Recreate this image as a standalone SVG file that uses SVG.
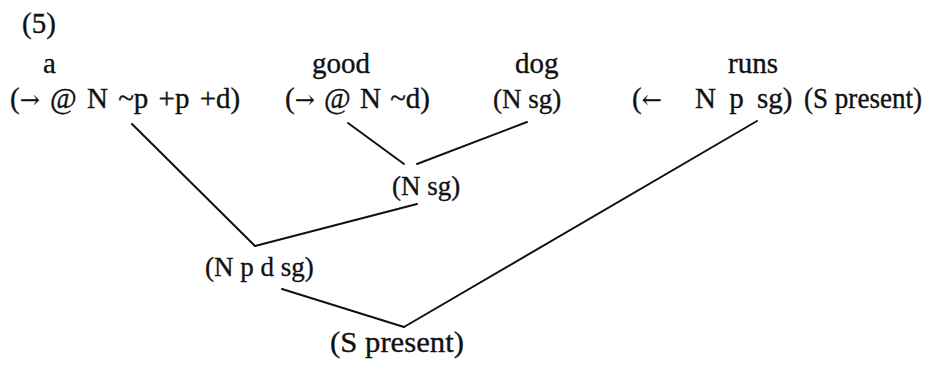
<svg xmlns="http://www.w3.org/2000/svg" width="929" height="365" viewBox="0 0 929 365">
<style>
text{font-family:"Liberation Serif","DejaVu Serif",serif;font-size:29px;fill:#111;stroke:#111;stroke-width:0.35;}
.n{font-size:27px;}
.ar{font-family:"DejaVu Serif",serif;font-size:24px;stroke-width:0.2;}
.c line{stroke:#111;stroke-width:2;stroke-linecap:round;}
</style>
<rect width="929" height="365" fill="#fff"/>
<g id="label"><text x="22" y="33">(5)</text></g>
<g id="word-a">
<text x="43" y="73">a</text>
<text x="10" y="108" word-spacing="3">(<tspan class="ar">→</tspan> @ N ~p +p +d)</text>
</g>
<g id="word-good">
<text x="312" y="73">good</text>
<text x="285" y="108" word-spacing="2">(<tspan class="ar">→</tspan> @ N ~d)</text>
</g>
<g id="word-dog">
<text x="515" y="73">dog</text>
<text x="493" y="108" class="n">(N sg)</text>
</g>
<g id="word-runs">
<text x="728" y="73">runs</text>
<text x="632" y="108">(<tspan class="ar">←</tspan></text>
<text x="695" y="108" word-spacing="6">N p sg)</text>
<text x="804" y="108" textLength="118" lengthAdjust="spacingAndGlyphs">(S present)</text>
</g>
<g id="node-nsg"><text x="392" y="195" class="n">(N sg)</text></g>
<g id="node-npdsg"><text x="205" y="276" class="n">(N p d sg)</text></g>
<g id="node-spresent"><text x="330" y="352" textLength="134" lengthAdjust="spacingAndGlyphs">(S present)</text></g>
<g id="connectors" class="c">
<line x1="348" y1="123" x2="404" y2="164"/>
<line x1="527" y1="122" x2="417" y2="164"/>
<line x1="132" y1="124" x2="255" y2="246"/>
<line x1="255" y1="246" x2="417" y2="204"/>
<line x1="282" y1="289" x2="404" y2="327"/>
<line x1="404" y1="327" x2="757" y2="121"/>
</g>
</svg>
